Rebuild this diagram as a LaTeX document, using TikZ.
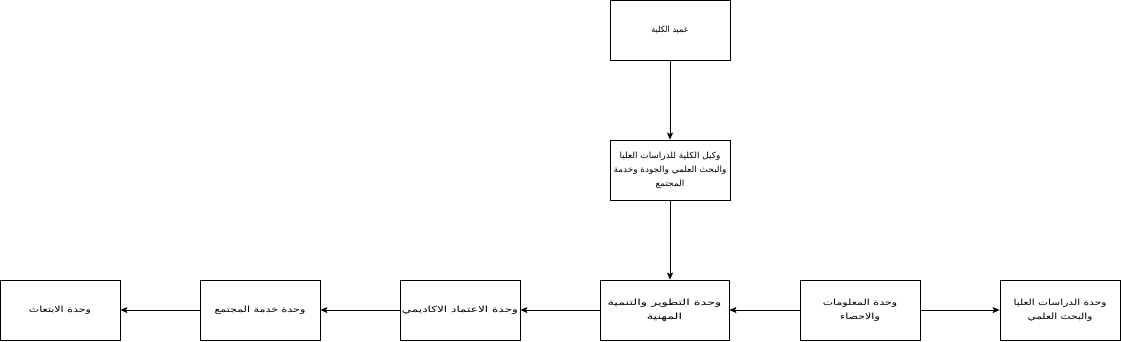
\documentclass[tikz,border=0pt]{standalone}
\usepackage{fontspec}
\usetikzlibrary{arrows.meta}
\TeXXeTstate=1
\newfontfamily\arabicfont[Script=Arabic]{DejaVu Sans}
\newcommand{\artxt}[2][1.3]{\hbox{\arabicfont\addfontfeature{FakeStretch=#1}\beginR #2\endR}}
\begin{document}
\begin{tikzpicture}[x=1pt,y=-1pt,
  box/.style={draw=black,line width=0.8pt,fill=white,minimum width=120pt,minimum height=60pt,inner sep=0pt,align=center,font=\fontsize{8.5}{14}\selectfont},
  arr/.style={line width=0.8pt,-{Stealth[length=7pt,width=6pt,inset=1.5pt]}}]
\useasboundingbox (0,0) rectangle (1121,341);
\node[box] (dean) at (670,30) {\artxt[0.95]{عميد الكلية}};
\node[box] (vice) at (670,170) {\artxt[1.05]{وكيل الكلية للدراسات العليا}\\\artxt[1.05]{والبحث العلمي والجودة وخدمة}\\\artxt[1.05]{المجتمع}};
\node[box,minimum width=129pt] (dev) at (664.5,310) {\artxt[1.5]{وحدة التطوير والتنمية}\\\artxt[1.5]{المهنية}};
\node[box] (acc) at (460,310) {\artxt[1.42]{وحدة الاعتماد الاكاديمي}};
\node[box] (comm) at (260,310) {\artxt[1.3]{وحدة خدمة المجتمع}};
\node[box] (sch) at (60,310) {\artxt[1.3]{وحدة الابتعاث}};
\node[box] (info) at (860,310) {\artxt[1.3]{وحدة المعلومات}\\\artxt[1.3]{والاحصاء}};
\node[box] (grad) at (1060,310) {\artxt[1.25]{وحدة الدراسات العليا}\\\artxt[1.25]{والبحث العلمي}};
\draw[arr] (dean) -- (vice);
\draw[arr] (vice.south) -- (dev.north -| vice.south);
\draw[arr] (dev) -- (acc);
\draw[arr] (acc) -- (comm);
\draw[arr] (comm) -- (sch);
\draw[arr] (info) -- (dev);
\draw[arr] (info) -- (grad);
\end{tikzpicture}
\end{document}
